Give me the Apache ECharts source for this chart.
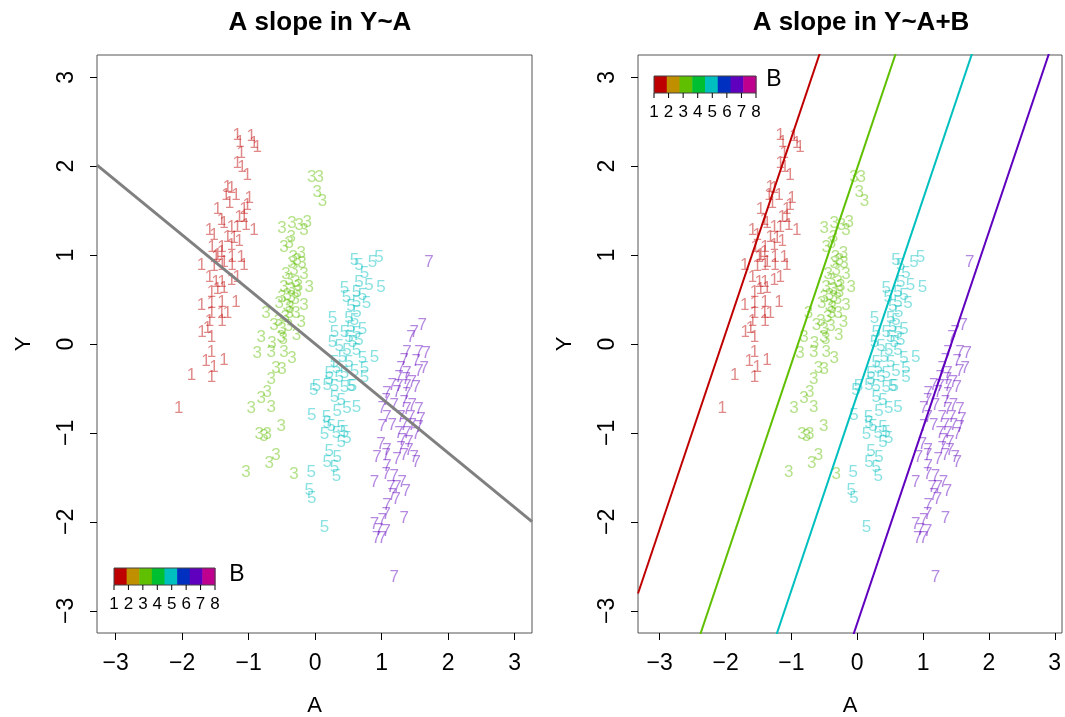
<!DOCTYPE html>
<html><head><meta charset="utf-8">
<script src="https://cdn.jsdelivr.net/npm/echarts@6/dist/echarts.min.js"></script>
<style>html,body{margin:0;padding:0;background:#fff}#c{width:1065px;height:717px}</style>
</head><body><div id="c"></div>
<script>
// ---- data ----
const groupLabels = ['1','3','5','7'];
const A_g1 = [-1.17,-1.13,-0.96,-0.92,-0.87,-1.11,-1.17,-1.10,-1.02,-1.32,-1.26,-1.34,-1.19,-1.29,-0.99,-1.02,-1.47,-1.07,-1.41,-1.37,-1.14,-1.07,-1.59,-1.52,-1.26,-1.17,-0.92,-1.04,-1.32,-1.22,-1.55,-1.40,-1.26,-1.14,-1.47,-1.41,-1.49,-1.37,-1.25,-1.11,-1.71,-1.07,-1.52,-1.40,-1.25,-1.59,-1.49,-1.40,-1.26,-1.17,-1.56,-1.47,-1.37,-1.71,-1.56,-1.40,-1.19,-1.56,-1.41,-1.32,-1.59,-1.70,-1.62,-1.56,-1.40,-1.56,-1.64,-1.52,-1.37,-1.86,-1.56,-2.05];
const Y_g1 = [2.35,2.27,2.33,2.26,2.21,2.15,2.03,1.99,1.90,1.76,1.75,1.67,1.67,1.58,1.64,1.56,1.51,1.51,1.39,1.36,1.42,1.43,1.28,1.22,1.31,1.31,1.28,1.34,1.20,1.19,1.09,1.09,1.11,1.15,1.00,1.03,0.98,0.92,0.98,0.98,0.89,0.89,0.87,0.89,0.89,0.75,0.69,0.69,0.72,0.75,0.58,0.61,0.63,0.44,0.46,0.47,0.47,0.35,0.35,0.35,0.25,0.13,0.18,0.08,0.25,-0.09,-0.20,-0.26,-0.18,-0.35,-0.37,-0.72];
const A_g3 = [-0.05,0.06,0.03,0.11,-0.50,-0.35,-0.24,-0.12,-0.17,-0.36,-0.47,-0.39,-0.21,-0.27,-0.20,-0.35,-0.32,-0.44,-0.17,-0.39,-0.29,-0.09,-0.47,-0.36,-0.27,-0.50,-0.36,-0.54,-0.42,-0.17,-0.74,-0.29,-0.39,-0.21,-0.62,-0.50,-0.81,-0.51,-0.65,-0.87,-0.66,-0.47,-0.35,-0.59,-0.50,-0.66,-0.72,-0.81,-0.66,-0.96,-0.51,-0.84,-0.77,-0.72,-0.59,-0.69,-1.04,-0.32,-0.42,-0.30,-0.45,-0.55,-0.40,-0.48,-0.38,-0.25,-0.33,-0.28];
const Y_g3 = [1.87,1.87,1.71,1.60,1.30,1.36,1.34,1.37,1.28,1.20,1.09,1.13,1.02,0.94,0.91,0.91,0.83,0.78,0.78,0.72,0.69,0.64,0.64,0.61,0.58,0.53,0.53,0.46,0.42,0.44,0.35,0.35,0.35,0.24,0.21,0.16,0.08,0.07,0.01,-0.10,-0.09,-0.09,-0.16,-0.27,-0.29,-0.40,-0.54,-0.61,-0.71,-0.72,-0.93,-1.02,-1.04,-1.02,-1.25,-1.34,-1.44,-1.47,0.55,0.50,0.30,0.25,0.20,0.05,0.40,0.65,0.98,0.10];
const A_g5 = [0.59,0.66,0.86,0.96,0.74,0.66,0.81,0.99,0.44,0.47,0.62,0.71,0.77,0.62,0.54,0.63,0.26,0.51,0.59,0.54,0.71,0.29,0.44,0.62,0.51,0.26,0.56,0.66,0.36,0.48,0.62,0.89,0.41,0.71,0.29,0.51,0.32,0.74,0.21,0.44,0.59,0.21,0.36,0.74,0.02,0.18,0.54,-0.02,0.29,0.44,0.56,0.29,0.39,0.48,0.62,-0.05,0.17,0.33,0.18,0.24,0.39,0.14,0.32,0.44,0.48,0.39,0.21,0.33,0.18,0.29,-0.06,0.32,-0.09,-0.05,0.14];
const Y_g5 = [0.94,0.89,0.92,0.97,0.80,0.69,0.66,0.64,0.63,0.53,0.58,0.55,0.46,0.47,0.42,0.36,0.29,0.29,0.27,0.19,0.16,0.13,0.13,0.12,0.08,0.02,0.02,0.04,-0.03,-0.07,-0.07,-0.15,-0.15,-0.16,-0.21,-0.21,-0.27,-0.27,-0.33,-0.33,-0.31,-0.40,-0.38,-0.37,-0.48,-0.46,-0.48,-0.52,-0.48,-0.49,-0.48,-0.60,-0.63,-0.72,-0.71,-0.80,-0.82,-0.76,-0.89,-0.93,-0.94,-1.02,-1.00,-0.99,-1.06,-1.11,-1.21,-1.27,-1.33,-1.39,-1.44,-1.49,-1.64,-1.73,-2.06];
const A_g7 = [1.71,1.61,1.49,1.44,1.67,1.56,1.38,1.34,1.52,1.64,1.56,1.29,1.38,1.26,1.37,1.46,1.16,1.26,1.38,1.52,1.23,1.08,1.38,1.07,1.19,1.34,1.46,1.56,1.01,1.38,1.08,1.29,1.44,1.59,1.16,1.34,1.46,1.01,1.56,1.26,1.38,1.52,1.31,1.41,0.99,1.08,1.29,1.41,0.93,1.34,1.49,1.07,1.23,1.52,1.08,0.89,1.07,1.19,1.31,1.14,1.23,1.37,1.16,1.22,1.08,1.34,1.07,1.01,0.89,0.96,1.07,0.92,1.01,1.19];
const Y_g7 = [0.92,0.21,0.13,0.07,-0.10,-0.09,-0.09,-0.18,-0.20,-0.27,-0.31,-0.27,-0.33,-0.38,-0.40,-0.43,-0.46,-0.48,-0.48,-0.49,-0.54,-0.55,-0.57,-0.63,-0.69,-0.66,-0.69,-0.74,-0.72,-0.74,-0.82,-0.82,-0.83,-0.85,-0.91,-0.91,-0.91,-0.93,-0.94,-1.00,-1.00,-1.02,-1.08,-1.10,-1.13,-1.19,-1.17,-1.19,-1.27,-1.25,-1.27,-1.25,-1.30,-1.33,-1.38,-1.56,-1.47,-1.49,-1.56,-1.61,-1.61,-1.66,-1.70,-1.75,-1.81,-1.96,-1.92,-1.98,-2.03,-2.09,-2.11,-2.18,-2.18,-2.62];
// fitted lines
const leftSlope = -0.613, leftIntercept = 0.0;
const rightSlope = 2.2;
const rightIntercepts = [4.52, 1.98, -0.57, -3.14];
const tickVals = [-3,-2,-1,0,1,2,3];
const legendLevels = ['1','2','3','4','5','6','7','8'];

// ---- styles ----
const palette = ['#BF0000','#BF8F00','#5FBF00','#00BF30','#00BFBF','#0030BF','#6000BF','#BF008F'];
const groupColorIdx = [0,2,4,6];
function rgba(hex,a){const n=parseInt(hex.slice(1),16);return `rgba(${n>>16},${(n>>8)&255},${n&255},${a})`;}
const FONT = 'Liberation Sans, Arial, sans-serif';
const groupsA = [A_g1,A_g3,A_g5,A_g7], groupsY = [Y_g1,Y_g3,Y_g5,Y_g7];

const xRanges = [[-3.28,3.26],[-3.33,3.11]];
const yRange = [-3.25,3.25];
const grids = [{left:97,top:55,width:435,height:578},{left:638,top:55,width:424,height:578}];
const fmt = v => String(v).replace('-', '\u2212');

const xAxes = [], yAxes = [], series = [];
for (let p=0;p<2;p++){
  xAxes.push({gridIndex:p,type:'value',min:xRanges[p][0],max:xRanges[p][1],
    name:'A',nameLocation:'middle',nameGap:62,nameTextStyle:{fontSize:22,fontFamily:FONT,color:'#000'},
    axisLine:{show:false,onZero:false},splitLine:{show:false},
    axisTick:{show:true,length:7,customValues:tickVals,lineStyle:{color:'#000'}},
    axisLabel:{customValues:tickVals,formatter:fmt,fontSize:23,fontFamily:FONT,color:'#000',margin:19}});
  yAxes.push({gridIndex:p,type:'value',min:yRange[0],max:yRange[1],
    name:'Y',nameLocation:'middle',nameGap:62,nameTextStyle:{fontSize:22,fontFamily:FONT,color:'#000'},
    axisLine:{show:false,onZero:false},splitLine:{show:false},
    axisTick:{show:true,length:7,customValues:tickVals,lineStyle:{color:'#000'}},
    axisLabel:{customValues:tickVals,formatter:fmt,rotate:90,fontSize:23,fontFamily:FONT,color:'#000',margin:19}});
  for (let g=0; g<4; g++){
    const col = palette[groupColorIdx[g]];
    series.push({type:'scatter',xAxisIndex:p,yAxisIndex:p,symbolSize:1,silent:true,
      itemStyle:{color:'rgba(0,0,0,0)'},
      label:{show:true,position:'inside',formatter:groupLabels[g],fontSize:17,fontFamily:FONT,color:rgba(col,0.58)},
      data:groupsA[g].map((a,i)=>[a,groupsY[g][i]])});
  }
}
// left regression line
{
  const [x0,x1]=xRanges[0];
  series.push({type:'line',xAxisIndex:0,yAxisIndex:0,symbol:'none',clip:true,silent:true,
    lineStyle:{color:'#808080',width:3},
    data:[[x0,leftIntercept+leftSlope*x0],[x1,leftIntercept+leftSlope*x1]]});
}
// right per-group lines
rightIntercepts.forEach((b,g)=>{
  const [x0,x1]=xRanges[1];
  series.push({type:'line',xAxisIndex:1,yAxisIndex:1,symbol:'none',clip:true,silent:true,
    lineStyle:{color:palette[groupColorIdx[g]],width:2},
    data:[[x0,b+rightSlope*x0],[x1,b+rightSlope*x1]]});
});

// legend colour bars
function colorBar(x,y,w,h,bx,by){
  const els=[]; const cw=w/8;
  palette.forEach((c,i)=>els.push({type:'rect',shape:{x:x+i*cw,y:y,width:cw+0.5,height:h},style:{fill:c}}));
  els.push({type:'rect',shape:{x:x,y:y,width:w,height:h},style:{fill:'none',stroke:'#444',lineWidth:1}});
  legendLevels.forEach((l,i)=>{
    const tx = x + i*(w/7);
    els.push({type:'line',shape:{x1:tx,y1:y+h,x2:tx,y2:y+h+5},style:{stroke:'#000',lineWidth:1}});
    els.push({type:'text',x:tx,y:y+h+19,style:{text:l,fontSize:17,fontFamily:FONT,fill:'#000',align:'center',verticalAlign:'middle'}});
  });
  els.push({type:'text',x:bx,y:by,style:{text:'B',fontSize:23,fontFamily:FONT,fill:'#000',align:'center',verticalAlign:'middle'}});
  return els;
}

const option = {
  animation:false,
  backgroundColor:'#fff',
  title:[
    {text:'A slope in Y~A',left:315,top:5,textAlign:'center',textStyle:{fontSize:26,fontWeight:'bold',fontFamily:FONT,color:'#000'}},
    {text:'A slope in Y~A+B',left:856,top:5,textAlign:'center',textStyle:{fontSize:26,fontWeight:'bold',fontFamily:FONT,color:'#000'}}
  ],
  grid: grids.map(g=>Object.assign({show:true,borderColor:'#555',borderWidth:1,backgroundColor:'transparent',containLabel:false,outerBoundsMode:'none'},g)),
  xAxis:xAxes, yAxis:yAxes, series:series,
  graphic:[].concat(colorBar(114,568,101,17,237,575), colorBar(654,76,102,17,774,80))
};
const chart = echarts.init(document.getElementById('c'),null,{renderer:'canvas'});
chart.setOption(option);
</script></body></html>
